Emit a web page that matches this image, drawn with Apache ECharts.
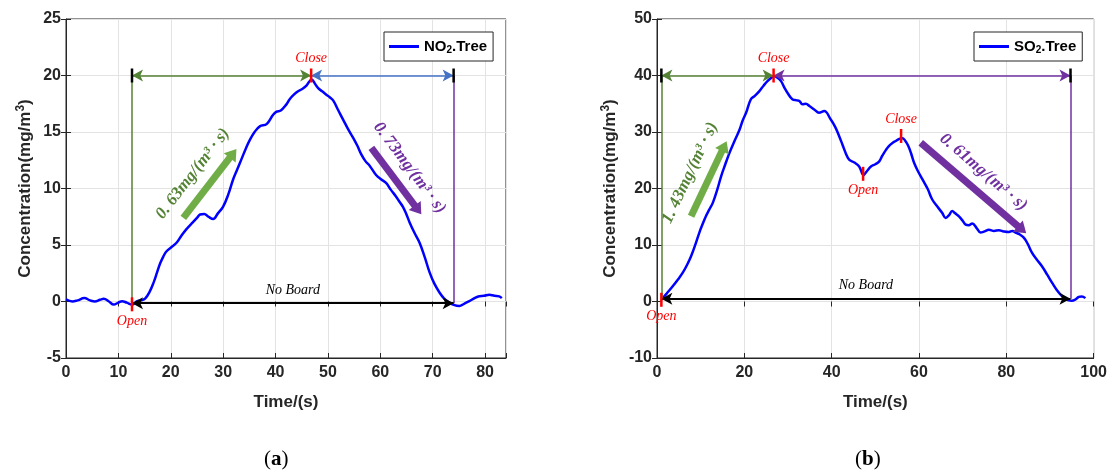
<!DOCTYPE html>
<html>
<head>
<meta charset="utf-8">
<script src="https://cdn.jsdelivr.net/npm/echarts@6.0.0/dist/echarts.min.js"></script>
<style>
  html, body { margin: 0; background: #fff; }
  #chart { width: 1110px; height: 473px; }
</style>
</head>
<body>
<div id="chart"></div>
<script>
// NO2 curve (a)
const no2Time = [0, 1.2, 2.2, 3.5, 4.6, 5.5, 6.5, 7.2, 8.2, 9.1, 10, 10.7, 11.6, 12.6, 13.5, 14.3, 15.1, 16, 16.7, 17.4,
  18, 18.6, 19.2, 20.1, 21.1, 22, 23, 24.2, 25, 25.6, 26.4, 27.2, 28.1, 29, 30, 31, 31.9, 32.7, 33.5, 34.3,
  35.1, 36, 37, 38.3, 39.5, 40.2, 41, 42, 42.7, 43.5, 44.3, 45.1, 45.9, 46.9, 47.5, 48.1, 48.9, 49.7, 50.3, 51,
  52, 52.9, 53.8, 54.8, 55.6, 56.4, 57.2, 58, 59.2, 60.2, 61.1, 62, 63, 63.7, 64.3, 65, 65.6, 66.5, 67.5, 68.5,
  69.4, 70.3, 71.3, 72.2, 73.2, 74, 75.1, 76, 77, 78, 78.9, 79.8, 80.8, 81.8, 82.7, 83.2];
const no2Conc = [0.2, 0.0, 0.1, 0.3, 0.1, 0.0, 0.15, 0.24, 0.0, -0.27, -0.1, 0.03, -0.1, -0.27, 0.0, 0.1, 0.25, 0.9, 1.65, 2.6,
  3.4, 4.0, 4.45, 4.8, 5.2, 5.8, 6.4, 7.0, 7.4, 7.7, 7.75, 7.5, 7.3, 7.8, 8.4, 9.5, 10.8, 11.7, 12.6, 13.5,
  14.3, 15.0, 15.5, 15.7, 16.5, 16.8, 16.9, 17.4, 17.9, 18.3, 18.6, 18.8, 19.1, 19.65, 19.3, 18.9, 18.6, 18.3, 18.1, 17.8,
  16.9, 16.1, 15.3, 14.5, 13.8, 13.0, 12.4, 12.0, 11.2, 10.8, 10.5, 9.9, 9.3, 8.8, 8.4, 7.7, 7.0, 6.1, 5.2, 3.9,
  2.6, 1.6, 0.8, 0.25, -0.1, -0.3, -0.4, -0.2, 0.03, 0.3, 0.47, 0.5, 0.6, 0.5, 0.45, 0.3];

// SO2 curve (b)
const so2Time = [1, 2.2, 3.6, 4.8, 5.9, 6.9, 7.8, 8.8, 9.7, 10.5, 11.2, 12, 12.8, 13.8, 14.7, 15.6, 16.6, 17.8, 18.9, 19.6,
  20.4, 21.5, 22.4, 23.4, 24.4, 25.3, 26.2, 26.8, 27.6, 28.4, 29.2, 29.9, 31, 32, 32.6, 33.3, 34.1, 34.9, 36, 37.1,
  38.3, 39.8, 40.8, 41.7, 42.5, 43.2, 44, 45.2, 46.3, 47.3, 48.1, 49, 50, 50.9, 51.6, 52.4, 53.1, 54, 54.7, 55.5,
  56.2, 56.8, 57.5, 58.2, 58.9, 59.8, 60.8, 62, 63, 64.2, 65.3, 66.1, 66.9, 67.6, 68.3, 69.1, 70, 70.7, 71.4, 72.2,
  73.2, 74.1, 75, 76, 77.2, 78.3, 79.4, 80.6, 81.4, 82.1, 83, 84, 84.9, 85.9, 87, 88.2, 89.4, 90.5, 91.6, 92.8,
  93.6, 94.3, 95, 95.8, 96.6, 97.3, 98.1];
const so2Conc = [0.3, 1.4, 2.7, 3.9, 5.1, 6.5, 8.0, 10.1, 12.2, 13.8, 15.1, 16.3, 17.5, 19.8, 22.2, 24.2, 26.3, 28.5, 30.4, 32.0,
  33.4, 35.8, 36.4, 37.2, 38.2, 39.0, 39.6, 39.9, 39.6, 39.0, 37.8, 36.9, 35.8, 35.6, 35.5, 34.9, 35.0, 34.6, 34.0, 33.4,
  33.7, 32.2, 30.9, 29.3, 27.7, 26.3, 25.1, 24.6, 23.9, 22.4, 23.1, 23.9, 24.3, 24.8, 25.8, 26.8, 27.5, 28.1, 28.4, 28.8,
  28.9, 28.5, 27.6, 26.2, 24.5, 23.0, 21.6, 19.9, 18.1, 16.8, 15.7, 14.8, 15.3, 16.0, 15.6, 15.1, 14.3, 13.6, 13.5, 13.8,
  13.0, 12.2, 12.4, 12.7, 12.5, 12.6, 12.4, 12.3, 12.5, 12.2, 11.9, 11.3, 10.2, 8.6, 7.4, 6.2, 4.7, 3.3, 2.0, 0.9,
  0.4, 0.2, 0.15, 0.35, 0.8, 0.9, 0.6];

// annotation anchors (data units)
const no2Events = [12.6, 46.8, 74];          // open, close, end
const no2Levels = [-0.15, 20];               // base line, top arrows
const no2Rise = [[22.4, 7.4], [31.9, 13.1]];
const no2Fall = [[58.3, 13.6], [67.2, 8.1]];
const no2Rates = ['0. 63mg/(m³ · s)', '0. 73mg/(m³ · s)'];

const so2Events = [1, 26.7, 94.7];
const so2Levels = [0.5, 40];
const so2Dip = [47.2, 22.6];
const so2Bump = [55.9, 29.3];
const so2Rise = [[7.8, 15.1], [15.4, 27.5]];
const so2Fall = [[60.4, 28.1], [83.6, 12.7]];
const so2Rates = ['1. 43mg/(m³ · s)', '0. 61mg/(m³ · s)'];

const SANS = 'Liberation Sans';
const SERIF = 'Liberation Serif';
const AXIS = '#262626';
const GREEN = '#548235', LGREEN = '#70ad47', ABLUE = '#4472c4', PURPLE = '#7030a0', RED = '#ff0000';

const zip = (xs, ys) => xs.map((x, i) => [x, ys[i]]);

function seg(a, b, color, opts) {
  const o = Object.assign({ width: 1.5, from: 'none', to: 'none', size: [9, 11], label: null }, opts || {});
  const style = { color: color, width: o.width, type: 'solid', opacity: 1 };
  const lab = o.label ? Object.assign({ show: true }, o.label) : { show: false };
  return [
    { coord: a, symbol: o.from, symbolSize: o.size, lineStyle: style, label: lab },
    { coord: b, symbol: o.to, symbolSize: o.size, lineStyle: style, label: lab }
  ];
}

function tick(p, color, text, pos) {
  return {
    coord: p, symbol: 'rect', symbolSize: [2.5, 14], itemStyle: { color: color },
    label: text ? {
      show: true, formatter: text, position: pos, distance: 3, color: RED,
      fontFamily: SERIF, fontStyle: 'italic', fontSize: 14
    } : { show: false }
  };
}

function rateLabel(text, color, dist) {
  return {
    formatter: text, position: 'insideMiddleTop', distance: dist, color: color,
    fontFamily: SERIF, fontStyle: 'italic', fontWeight: 'bold', fontSize: 17
  };
}

function annotations(ev, lv, rise, fall, rates, topColor2, extraTicks) {
  const [open, close, end] = ev;
  const [base, top] = lv;
  return {
    markLine: {
      silent: true, animation: false, label: { show: false },
      data: [
        seg([open, base], [open, top], GREEN),
        seg([end, base], [end, top], PURPLE),
        seg([open, top], [close, top], GREEN, { from: 'arrow', to: 'arrow' }),
        seg([close, top], [end, top], topColor2, { from: 'arrow', to: 'arrow' }),
        seg([open, base], [end, base], '#000', {
          width: 2, from: 'arrow', to: 'arrow',
          label: { formatter: 'No Board', position: 'insideMiddleTop', distance: 6, color: '#000',
                   fontFamily: SERIF, fontStyle: 'italic', fontSize: 14 }
        }),
        seg(rise[0], rise[1], LGREEN, { width: 7, to: 'triangle', size: [15, 11], label: rateLabel(rates[0], GREEN, 11) }),
        seg(fall[0], fall[1], PURPLE, { width: 7, to: 'triangle', size: [15, 11], label: rateLabel(rates[1], PURPLE, 10) })
      ]
    },
    markPoint: {
      silent: true, animation: false, label: { show: false },
      data: [
        tick([open, top], '#000'),
        tick([end, top], '#000'),
        tick([open, base - 0.1 * (top / 20)], RED, 'Open', 'bottom'),
        tick([close, top], RED, 'Close', 'top')
      ].concat(extraTicks || [])
    }
  };
}

const tickLabel = { color: AXIS, fontFamily: SANS, fontWeight: 'bold', fontSize: 16 };
const nameStyle = {
  color: AXIS, fontFamily: SANS, fontWeight: 'bold', fontSize: 17,
  rich: { sup: { color: AXIS, fontFamily: SANS, fontWeight: 'bold', fontSize: 12, padding: [0, 0, 9, 0] } }
};

function mainX(grid, max, interval) {
  return {
    type: 'value', gridIndex: grid, min: 0, max: max, interval: interval,
    name: 'Time/(s)', nameLocation: 'middle', nameGap: 36, nameTextStyle: nameStyle,
    axisLine: { show: true, onZero: false, lineStyle: { color: AXIS } },
    axisTick: { show: true, inside: true, length: 5, lineStyle: { color: AXIS } },
    axisLabel: Object.assign({ margin: 7, formatter: v => (v % interval === 0 ? String(v) : '') }, tickLabel),
    splitLine: { show: true, lineStyle: { color: '#e3e3e3' } }
  };
}
function mainY(grid, min, max, interval, gap) {
  return {
    type: 'value', gridIndex: grid, min: min, max: max, interval: interval,
    name: 'Concentration(mg/m{sup|3})', nameLocation: 'middle', nameRotate: 90, nameGap: gap, nameTextStyle: nameStyle,
    axisLine: { show: true, lineStyle: { color: AXIS } },
    axisTick: { show: true, inside: true, length: 5, lineStyle: { color: AXIS } },
    axisLabel: Object.assign({ margin: 5 }, tickLabel),
    splitLine: { show: true, lineStyle: { color: '#e3e3e3' } }
  };
}
function mirror(grid, min, max, interval, pos) {
  return {
    type: 'value', gridIndex: grid, min: min, max: max, interval: interval, position: pos,
    axisLine: { show: false }, axisLabel: { show: false }, splitLine: { show: false },
    axisTick: { show: true, inside: true, length: 5, lineStyle: { color: AXIS } }
  };
}

const legendBase = {
  orient: 'horizontal', selectedMode: false, icon: 'rect', itemWidth: 30, itemHeight: 3, itemGap: 4,
  borderColor: AXIS, borderWidth: 1, padding: [7, 6, 6, 5], backgroundColor: '#fff',
  formatter: name => '{b|' + name.slice(0, 2) + '}{s|2}{b|' + name.slice(3) + '}',
  textStyle: {
    color: '#000', fontFamily: SANS, fontWeight: 'bold', fontSize: 15,
    rich: {
      b: { fontFamily: SANS, fontWeight: 'bold', fontSize: 15, color: '#000' },
      s: { fontFamily: SANS, fontWeight: 'bold', fontSize: 10, color: '#000', padding: [7, 0, 0, 0] }
    }
  }
};

const captionStyle = {
  fontFamily: SERIF, fontSize: 21, fontWeight: 'normal', color: '#000',
  rich: { a: { fontFamily: SERIF, fontSize: 21, fontWeight: 'bold', color: '#000' } }
};

const chart = echarts.init(document.getElementById('chart'), null, { renderer: 'canvas' });

chart.setOption({
  animation: false,
  backgroundColor: '#fff',
  grid: [
    { left: 66, top: 19, width: 440, height: 339, show: true, borderColor: AXIS, borderWidth: 1 },
    { left: 657, top: 19, width: 438, height: 339, show: true, borderColor: AXIS, borderWidth: 1 }
  ],
  title: [
    { text: '({a|a})', left: 259, top: 444, textStyle: captionStyle },
    { text: '({a|b})', left: 850, top: 444, textStyle: captionStyle }
  ],
  legend: [
    Object.assign({ data: ['NO2.Tree'], left: 384, top: 32 }, legendBase),
    Object.assign({ data: ['SO2.Tree'], left: 974, top: 32 }, legendBase)
  ],
  xAxis: [
    mainX(0, 84, 10),
    mainX(1, 100, 20),
    mirror(0, 0, 84, 10, 'top'),
    mirror(1, 0, 100, 20, 'top')
  ],
  yAxis: [
    mainY(0, -5, 25, 5, 30),
    mainY(1, -10, 50, 10, 36),
    mirror(0, -5, 25, 5, 'right'),
    mirror(1, -10, 50, 10, 'right')
  ],
  series: [
    Object.assign({
      name: 'NO2.Tree', type: 'line', xAxisIndex: 0, yAxisIndex: 0,
      data: zip(no2Time, no2Conc), smooth: 0.4, showSymbol: false,
      lineStyle: { color: '#0000ff', width: 2.5 }, itemStyle: { color: '#0000ff' }
    }, annotations(no2Events, no2Levels, no2Rise, no2Fall, no2Rates, ABLUE)),
    Object.assign({
      name: 'SO2.Tree', type: 'line', xAxisIndex: 1, yAxisIndex: 1,
      data: zip(so2Time, so2Conc), smooth: 0.4, showSymbol: false,
      lineStyle: { color: '#0000ff', width: 2.5 }, itemStyle: { color: '#0000ff' }
    }, annotations(so2Events, so2Levels, so2Rise, so2Fall, so2Rates, PURPLE, [
      tick(so2Dip, RED, 'Open', 'bottom'),
      tick(so2Bump, RED, 'Close', 'top')
    ]))
  ]
});
</script>
</body>
</html>
